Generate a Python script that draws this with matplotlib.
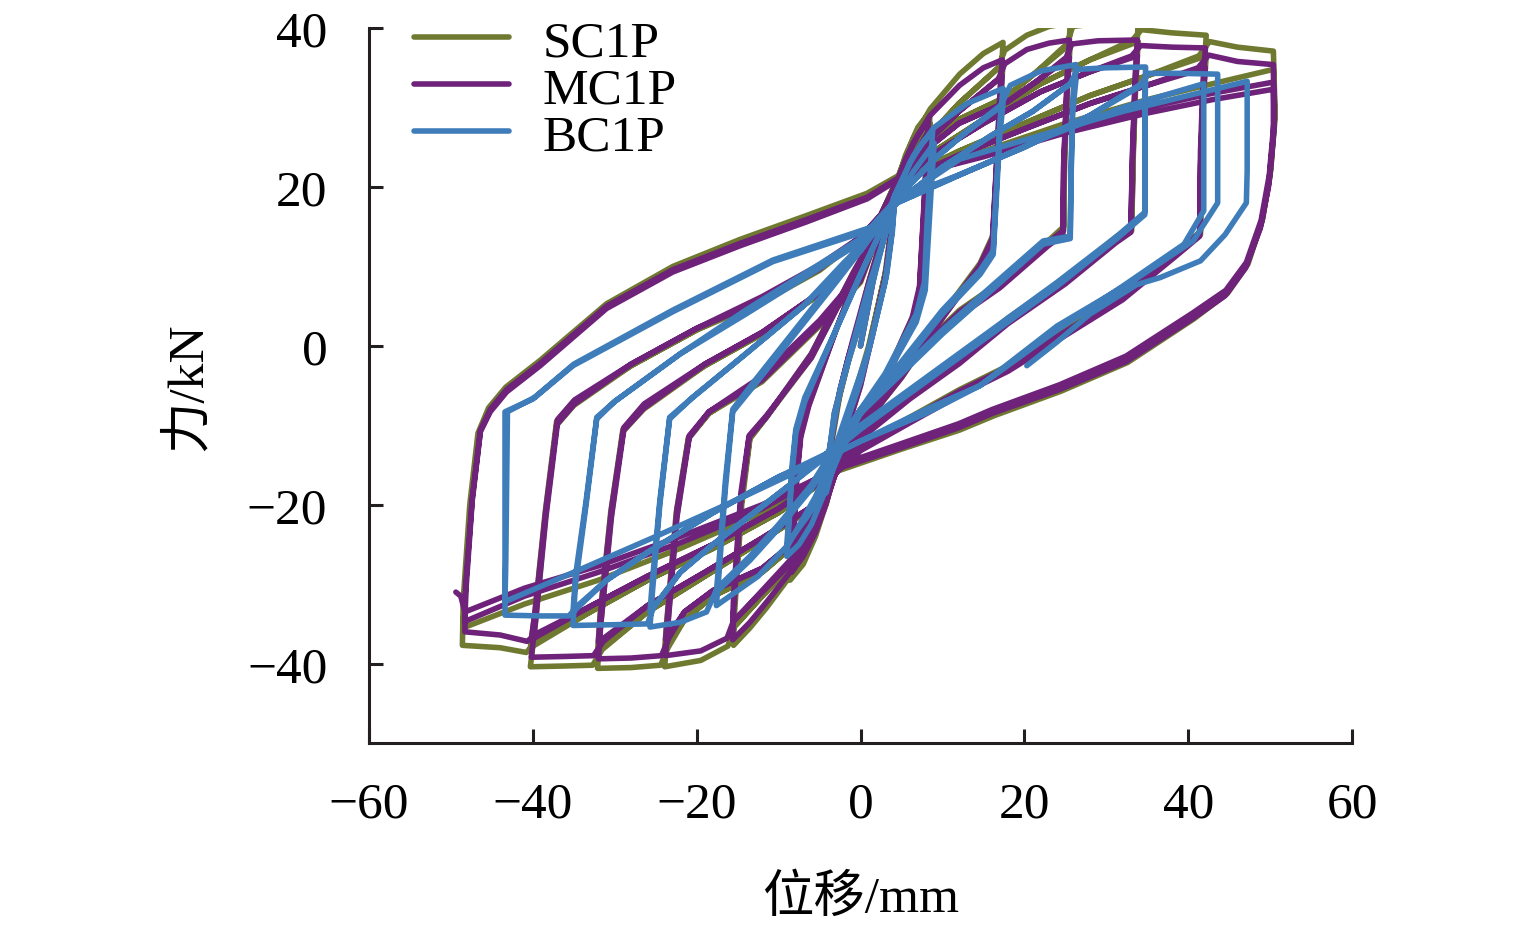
import numpy as np
from matplotlib import pyplot as plt

# 滞回曲线: 位移(mm), 力(kN), 每个试件按圈记录
sc1p_loops = [
    [(0, 0), (1.5, 8), (3, 15), (4.2, 21), (3.9, 16), (3.2, 10), (1.5, 2), (0, -5), (-1.5, -10), (-3, -15),
     (-4.2, -20), (-3.9, -15), (-3.2, -9), (-1.5, -2), (0, 3), (1.5, 9), (3, 15), (4.2, 20.5), (3.8, 15.5),
     (3, 9), (1, 0), (-1, -7), (-3, -13), (-4.2, -19.5), (-3.8, -14), (-2.5, -6), (-1, 0)],
    [(-1, 0), (1, 8), (3, 15), (4.4, 20.5), (5.5, 24), (7, 27.5), (8.5, 29.5), (8.2, 24), (7.8, 16), (7.4, 8),
     (6.5, 4), (3, -4), (0, -9), (-2.5, -14), (-4.4, -20.5), (-5.5, -24), (-7, -27.5), (-8.6, -29.5),
     (-8.3, -24), (-8, -18), (-7.5, -12), (-6.5, -8), (-3, 2), (0, 10), (2.5, 16)],
    [(2.5, 16), (4.4, 20), (6, 23.5), (8.5, 28), (8.2, 23), (7.8, 15), (7.4, 7.5), (6.5, 3.5), (3, -4.5),
     (0, -9.5), (-2.5, -14.5), (-4.4, -20), (-6, -23.5), (-8.6, -28), (-8.3, -23), (-8, -17), (-7.5, -11.5),
     (-6.5, -7.5), (-3, 2), (0, 9.5), (2.5, 15.5)],
    [(2.5, 15.5), (4.4, 20.8), (6.4, 26), (8.5, 29.8), (12.1, 34.2), (15, 36.8), (17.4, 38.2), (17.1, 33),
     (16.6, 22), (16.2, 14), (14.6, 10.4), (10, 4), (5, -3.5), (0, -10), (-3, -15.5), (-5, -21.5),
     (-8.6, -29), (-11.5, -33), (-13.5, -35.5), (-15.5, -37.7), (-15.4, -34), (-14.5, -20), (-13.5, -11.7),
     (-11.5, -9), (-6, -1), (-1, 9), (2.5, 15.5)],
    [(2.5, 15.5), (4.4, 20), (8, 26), (12, 30.5), (17.4, 35.5), (17.1, 31), (16.6, 21), (16.2, 13.5),
     (14.6, 10), (10, 3.5), (5, -4), (0, -10.5), (-3, -15.5), (-5, -21), (-8.6, -27.5), (-12, -31.5),
     (-15.5, -35.5), (-15.4, -32), (-14.5, -19), (-13.5, -11.5), (-11.5, -9), (-6, -1.5), (-1, 8.5), (2.5, 15)],
    [(2.5, 15), (4.4, 20.8), (8, 26), (12, 30.5), (16.8, 35), (17.6, 37.2), (20.3, 39.1), (23, 40.2),
     (25.6, 40.7), (25.3, 35), (24.9, 24), (24.8, 15), (22.9, 13.2), (17, 8), (12.1, 4.5), (5, -2.5),
     (0, -8), (-3, -15), (-5, -21.5), (-8.6, -28), (-12, -31.5), (-15.4, -35.3), (-16.2, -37.8),
     (-19.5, -39.6), (-23.9, -40.4), (-23.6, -36), (-22.5, -22), (-21, -11.7), (-18.5, -8.5), (-12, -4.5),
     (-5, 2.5), (0, 8), (2.5, 15)],
    [(2.5, 15), (4.4, 20.5), (8, 25), (12, 28.5), (17.9, 31.4), (21.5, 34.5), (25.6, 38), (25.3, 33),
     (24.9, 23), (24.8, 14.5), (22.9, 12.8), (17, 7.5), (12.1, 4), (5, -3), (0, -8.5), (-3, -15), (-5, -20),
     (-8, -25), (-12, -28.5), (-18, -31.5), (-21.5, -34.5), (-23.9, -38), (-23.6, -34), (-22.5, -21),
     (-21, -11.5), (-18.5, -8.5), (-12, -4), (-5, 3), (0, 9), (2.5, 15.5)],
    [(2.5, 15.5), (4.4, 20.8), (8, 25), (12, 28.5), (17.9, 31.4), (21.5, 34.5), (25.2, 38), (25.9, 40.2),
     (29, 40.6), (33.9, 40.8), (33.6, 35), (33.3, 25), (33.1, 15), (31.3, 13.8), (25, 8.5), (18, 3.5),
     (12.1, -1.5), (6, -6), (0, -11), (-3, -16), (-5, -20), (-8, -25), (-12, -28.5), (-18, -31.5),
     (-21.5, -34.5), (-23.5, -38), (-24.4, -40.2), (-28, -40.5), (-32.1, -40.6), (-31.8, -36), (-30.5, -22),
     (-29, -10.8), (-26.5, -8), (-19, -2.5), (-12, 1.5), (-5, 6.5), (0, 12), (2.5, 16)],
    [(2.5, 16), (4.4, 20.5), (9, 24.5), (15, 28.5), (22, 33), (28, 36), (33.9, 38.3), (33.6, 33), (33.3, 24),
     (33.1, 14.5), (31.3, 13.3), (25, 8), (18, 3), (12.1, -2), (6, -6.5), (0, -11.5), (-3, -16), (-6, -20.5),
     (-12, -24.5), (-19, -29), (-26, -33.5), (-32.1, -38.5), (-31.8, -34), (-30.5, -21), (-29, -10.5),
     (-26.5, -7.5), (-19, -2.5), (-12, 1.5), (-5, 6.5), (0, 12.5), (2.5, 16.5)],
    [(2.5, 16.5), (4.4, 20.8), (9, 24.5), (15, 28.5), (22, 33), (28, 36), (33.2, 38.5), (34.3, 39.8),
     (38, 39.4), (42.2, 39.1), (41.9, 34), (41.6, 25), (41.5, 14.4), (38.6, 11.9), (32, 6.5), (25, 2),
     (18, -2.5), (12.1, -5.5), (6, -9), (0, -12.5), (-3, -15.5), (-6, -20.5), (-12, -24.5), (-19, -29),
     (-26, -33.5), (-31.5, -38.2), (-32.7, -40.2), (-36, -40.3), (-40.3, -40.4), (-39.8, -36), (-38.5, -22),
     (-37.1, -10), (-35, -7.5), (-28, -2.5), (-20, 2), (-12, 5.5), (-5, 9.5), (0, 13.5), (2.5, 16.5)],
    [(2.5, 16.5), (4.4, 20.5), (12, 24.5), (20, 28), (28, 31.5), (35, 34), (42.2, 36.5), (41.9, 32),
     (41.6, 23), (41.5, 14), (38.6, 11.5), (32, 6), (25, 1.5), (18, -3), (12.1, -6), (6, -9.5), (0, -13),
     (-3, -16), (-10, -21), (-18, -25.5), (-26, -29.5), (-33, -33.5), (-40.3, -38), (-39.8, -34),
     (-38.5, -21), (-37.1, -9.5), (-35, -7), (-28, -2.5), (-20, 2), (-12, 6), (-5, 10), (0, 13.5), (2.5, 16.5)],
    [(2.5, 16.5), (4.4, 20.8), (12, 24.5), (20, 28), (28, 31.5), (35, 34), (41.3, 36.5), (42.6, 38.3),
     (46, 37.6), (50.4, 37.1), (50.6, 29.6), (50.1, 22.3), (49.1, 16), (47.3, 10.3), (44.8, 6.6),
     (40.7, 3.4), (32.6, -2.1), (24.5, -5.7), (16.3, -8.8), (12.1, -10.6), (5, -13), (-2.9, -15.8),
     (-10, -21), (-18, -25.5), (-26, -29.5), (-33, -33.5), (-39.6, -37.3), (-40.8, -38.6), (-44, -38),
     (-48.6, -37.7), (-48.5, -32), (-47.7, -20), (-46.7, -11), (-45.4, -7.8), (-43.3, -5.2), (-39.2, -1.9),
     (-31, 5.3), (-22.9, 10), (-14.7, 13.4), (-6.6, 16.4), (0.8, 19.2), (4.4, 21.3)],
    [(4.4, 21.3), (15, 24.5), (25, 28), (35, 31), (43, 33), (50.4, 34.8), (50.6, 28.5), (50, 21.5),
     (49, 15.7), (47.2, 10.3), (44.7, 6.7), (40.6, 3.6), (32.5, -2), (24.4, -5.5), (16.2, -8.5),
     (12.1, -10.3), (5, -12.8), (-2.9, -15.5), (-12, -21), (-22, -25.5), (-32, -29.5), (-41, -32.5),
     (-48.5, -35.5), (-48.3, -30.5), (-47.5, -19.5), (-46.5, -10.8), (-45.2, -8), (-43.2, -5.5),
     (-39.1, -2.2), (-31, 5), (-22.9, 9.6), (-14.7, 12.9), (-6.6, 15.9), (0.8, 18.7), (4.4, 21)],
]

mc1p_loops = [
    [(0, 0), (1.5, 8), (3, 15), (4.2, 20.5), (3.9, 15.5), (3.2, 9.5), (1.5, 1.5), (0, -5), (-1.5, -10),
     (-3, -15), (-4.2, -19.5), (-3.9, -14.5), (-3.2, -8.5), (-1.5, -1.5), (0, 3.5), (1.5, 9), (3, 15),
     (4.2, 20), (3.8, 15), (3, 8.5), (1, -0.5), (-1, -7), (-3, -13), (-4.2, -19), (-3.8, -13.5),
     (-2.5, -5.5), (-1, 0.5)],
    [(-1, 0.5), (1, 8), (3, 15), (4.4, 20.5), (5.5, 23.5), (7, 26.5), (8.3, 28.5), (8, 23), (7.6, 15),
     (7.2, 7.5), (6.3, 3.5), (3, -4), (0, -9), (-2.5, -14), (-4.4, -20.5), (-5.5, -23.5), (-7, -26.5),
     (-8.4, -28.5), (-8.1, -23), (-7.8, -17), (-7.3, -11.5), (-6.3, -7.5), (-3, 2), (0, 10), (2.5, 16)],
    [(2.5, 16), (4.4, 20), (6, 23), (8.3, 27), (8, 22), (7.6, 14.5), (7.2, 7), (6.3, 3), (3, -4.5),
     (0, -9.5), (-2.5, -14.5), (-4.4, -20), (-6, -23), (-8.4, -27), (-8.1, -22), (-7.8, -16.5), (-7.3, -11),
     (-6.3, -7), (-3, 2), (0, 9.5), (2.5, 15.5)],
    [(2.5, 15.5), (4.4, 20.5), (6.4, 25.5), (8.5, 29), (12.1, 32.8), (15, 35), (17.3, 36), (17, 31.5),
     (16.5, 21), (16.1, 13.5), (14.5, 10), (10, 3.8), (5, -3.5), (0, -10), (-3, -15.3), (-5, -21),
     (-8.6, -28.5), (-11.5, -32.3), (-13.5, -34.8), (-15.6, -37), (-15.5, -33.5), (-14.6, -19.5),
     (-13.6, -11.5), (-11.5, -9), (-6, -1), (-1, 9), (2.5, 15.5)],
    [(2.5, 15.5), (4.4, 20), (8, 25.5), (12, 29.5), (17.3, 34), (17, 30), (16.5, 20.5), (16.1, 13),
     (14.5, 9.8), (10, 3.5), (5, -4), (0, -10.5), (-3, -15.5), (-5, -20.5), (-8.6, -27), (-12, -30.8),
     (-15.6, -34.8), (-15.5, -31.5), (-14.6, -18.5), (-13.6, -11.3), (-11.5, -8.8), (-6, -1.5), (-1, 8.5),
     (2.5, 15)],
    [(2.5, 15), (4.4, 20.5), (8, 25.5), (12, 29.5), (16.8, 33.5), (17.6, 35.5), (20.3, 37.3), (23, 38.1),
     (25.5, 38.5), (25.2, 33.5), (24.8, 23), (24.7, 14.5), (22.8, 12.9), (17, 7.8), (12.1, 4.3), (5, -2.7),
     (0, -8.2), (-3, -15), (-5, -21), (-8.6, -27.5), (-12, -31), (-15.5, -34.6), (-16.3, -36.8),
     (-19.5, -38.4), (-23.8, -39), (-23.5, -35), (-22.4, -21.5), (-20.9, -11.5), (-18.5, -8.3), (-12, -4.3),
     (-5, 2.7), (0, 8.2), (2.5, 15)],
    [(2.5, 15), (4.4, 20.3), (8, 24.7), (12, 28), (17.9, 30.7), (21.5, 33.3), (25.5, 36.3), (25.2, 32),
     (24.8, 22.5), (24.7, 14), (22.8, 12.5), (17, 7.3), (12.1, 3.8), (5, -3.2), (0, -8.7), (-3, -15),
     (-5, -19.8), (-8, -24.6), (-12, -28), (-18, -30.8), (-21.5, -33.5), (-23.8, -37), (-23.5, -33.3),
     (-22.4, -20.5), (-20.9, -11.3), (-18.5, -8.3), (-12, -3.8), (-5, 3.2), (0, 9.2), (2.5, 15.5)],
    [(2.5, 15.5), (4.4, 20.5), (8, 24.7), (12, 28), (17.9, 30.7), (21.5, 33.3), (25.1, 36.3), (25.8, 38),
     (29, 38.4), (33.8, 38.5), (33.5, 33.5), (33.2, 24.5), (33, 14.8), (31.2, 13.5), (25, 8.3), (18, 3.3),
     (12.1, -1.7), (6, -6.2), (0, -11.2), (-3, -16), (-5, -19.8), (-8, -24.6), (-12, -28), (-18, -30.8),
     (-21.5, -33.5), (-23.4, -36.8), (-24.3, -39), (-28, -39.3), (-32, -39.4), (-31.7, -35), (-30.4, -21.5),
     (-28.9, -10.6), (-26.4, -7.8), (-19, -2.3), (-12, 1.7), (-5, 6.7), (0, 12.2), (2.5, 16)],
    [(2.5, 16), (4.4, 20.3), (9, 24.2), (15, 28), (22, 32), (28, 34.5), (33.8, 36.5), (33.5, 32),
     (33.2, 23.5), (33, 14.3), (31.2, 13), (25, 7.8), (18, 2.8), (12.1, -2.2), (6, -6.7), (0, -11.7),
     (-3, -16), (-6, -20.3), (-12, -24.2), (-19, -28.5), (-26, -32.7), (-32, -37.3), (-31.7, -33.2),
     (-30.4, -20.5), (-28.9, -10.3), (-26.4, -7.3), (-19, -2.3), (-12, 1.7), (-5, 6.7), (0, 12.7), (2.5, 16.5)],
    [(2.5, 16.5), (4.4, 20.5), (9, 24.2), (15, 28), (22, 32), (28, 34.5), (33.1, 36.5), (34.2, 37.8),
     (38, 37.6), (42.1, 37.5), (41.8, 33), (41.5, 24.5), (41.4, 14.2), (38.5, 11.7), (32, 6.3), (25, 1.8),
     (18, -2.7), (12.1, -5.7), (6, -9.2), (0, -12.7), (-3, -15.5), (-6, -20.3), (-12, -24.2), (-19, -28.5),
     (-26, -32.7), (-31.4, -37.2), (-32.6, -39), (-36, -39.1), (-40.2, -39.2), (-39.7, -35), (-38.4, -21.5),
     (-37, -9.8), (-34.9, -7.3), (-28, -2.3), (-20, 2.2), (-12, 5.7), (-5, 9.7), (0, 13.7), (2.5, 16.5)],
    [(2.5, 16.5), (4.4, 20.3), (12, 24), (20, 27.3), (28, 30.5), (35, 32.8), (42.1, 35), (41.8, 31),
     (41.5, 22.5), (41.4, 13.8), (38.5, 11.3), (32, 5.8), (25, 1.3), (18, -3.2), (12.1, -6.2), (6, -9.7),
     (0, -13.2), (-3, -16), (-10, -20.5), (-18, -25), (-26, -29), (-33, -32.8), (-40.2, -37), (-39.7, -33.2),
     (-38.4, -20.5), (-37, -9.3), (-34.9, -6.8), (-28, -2.3), (-20, 2.2), (-12, 6.2), (-5, 10.2), (0, 13.7),
     (2.5, 16.5)],
    [(2.5, 16.5), (4.4, 20.5), (12, 24), (20, 27.3), (28, 30.5), (35, 32.8), (41.2, 35), (42.5, 36.6),
     (46, 35.8), (50.4, 35.4), (50.5, 28.5), (49.9, 21.5), (48.9, 15.8), (47.1, 10.5), (44.6, 7), (40.5, 4.1),
     (32.4, -1.3), (24.3, -4.9), (16.1, -8), (12, -9.8), (5, -12.3), (-2.9, -15.1), (-10, -20.5), (-18, -25),
     (-26, -29), (-33, -32.8), (-39.5, -36.2), (-40.7, -37.2), (-44, -36.4), (-48.3, -36), (-48.2, -31.2),
     (-47.4, -19.5), (-46.4, -10.8), (-45.2, -8.3), (-43.2, -5.8), (-39.1, -2.5), (-31, 4.7), (-22.9, 9.3),
     (-14.7, 12.6), (-6.6, 15.6), (0.8, 18.5), (4.4, 20.8)],
    [(4.4, 20.8), (15, 24), (25, 27.3), (35, 30), (43, 31.8), (50.4, 33.2), (50.5, 27.5), (49.9, 20.8),
     (48.9, 15.3), (47.1, 10.1), (44.6, 6.6), (40.5, 3.7), (32.4, -1.8), (24.3, -5.3), (16.1, -8.3),
     (12, -10.1), (5, -12.6), (-2.9, -15.3), (-12, -20.5), (-22, -24.8), (-32, -28.5), (-41, -31.5),
     (-48.3, -34.7), (-48.2, -30), (-47.4, -19.2), (-46.4, -10.6), (-45.2, -8), (-43.2, -5.5), (-39.1, -2.2),
     (-31, 5), (-22.9, 9.6), (-14.7, 12.9), (-6.6, 15.9), (0.8, 18.7), (4.4, 21)],
    [(4.4, 21), (15, 23.8), (25, 26.8), (35, 29.3), (43, 31), (50.4, 32.3), (50.4, 26.5), (49.8, 20),
     (48.8, 14.8), (47, 9.8), (44.5, 6.3), (40.5, 3.4), (32.4, -2), (24.3, -5.5), (16.1, -8.5), (12, -10.3),
     (5, -12.8), (-2.9, -15.5), (-12, -20), (-22, -24), (-32, -27.7), (-41, -30.5), (-48.3, -33.5),
     (-48.8, -31.5), (-49.4, -31)],
]

bc1p_loops = [
    [(0, 0), (1.5, 8), (3, 14), (4.2, 19), (3.9, 14.5), (3.2, 9), (1.5, 1.5), (0, -4.5), (-1.5, -9),
     (-3, -14), (-4.2, -18.5), (-3.9, -14), (-3.2, -8.5), (-1.5, -2), (0, 3), (1.5, 8.5), (3, 14),
     (4.2, 18.5), (3.8, 14), (3, 8), (1, -0.5), (-1, -6.5), (-3, -12.5), (-4.2, -18), (-3.8, -13),
     (-2.5, -5.5), (-1, 0)],
    [(-1, 0), (1, 7.5), (3, 14), (4.4, 19), (6, 23), (7.5, 25.5), (8.8, 27), (8.5, 22), (8.1, 15), (7.8, 8),
     (6.8, 4), (3, -3.5), (0, -8), (-2.5, -13), (-4.4, -18.5), (-6, -22.5), (-7.5, -25), (-9, -26.5),
     (-8.7, -22), (-8.4, -16.5), (-7.9, -11), (-6.8, -7), (-3, 2), (0, 9), (2.5, 14.5)],
    [(2.5, 14.5), (4.4, 18.5), (6.5, 22), (9, 25.5), (8.7, 21), (8.3, 14), (7.9, 7), (6.8, 3), (3, -4),
     (0, -8.5), (-2.5, -13.5), (-4.4, -18), (-6.5, -21.5), (-9, -25), (-8.7, -21), (-8.4, -15.5),
     (-7.9, -10.5), (-6.8, -6.5), (-3, 2), (0, 9), (2.5, 14.5)],
    [(2.5, 14.5), (4.4, 19.5), (6.5, 24), (9, 27.5), (13, 30.5), (17.4, 32.4), (17, 28), (16.5, 18),
     (16.2, 12), (14.6, 9.5), (10, 4.5), (5, -2), (0, -8), (-3, -13), (-5.5, -19), (-8.8, -25),
     (-12.5, -29), (-17.6, -32.7), (-17.3, -29), (-16.5, -18), (-15.6, -8.3), (-13, -5), (-8, 1.5),
     (-3, 8), (0, 12)],
    [(0, 12), (4.4, 18.5), (9, 23.5), (13, 27), (17.4, 30.5), (17, 26.5), (16.5, 17), (16.2, 11.5),
     (14.6, 9), (10, 4), (5, -2.5), (0, -8.5), (-3, -13), (-6, -18), (-10, -23), (-13.5, -27), (-17.6, -31),
     (-17.3, -27.5), (-16.5, -17), (-15.6, -8), (-13, -4.5), (-8, 2), (-3, 8.5), (0, 12)],
    [(0, 12), (4.4, 18.5), (9, 23.5), (13, 27), (17, 30), (18.3, 32.8), (22, 34.6), (26.3, 35.4),
     (25.9, 31), (25.7, 22), (25.6, 13.8), (22.3, 13.2), (16, 7.5), (10, 2), (4, -4), (0, -8), (-3, -12.5),
     (-6, -17.5), (-10, -22.5), (-13.5, -26.5), (-17.5, -30.5), (-18.8, -33.5), (-22, -34.8), (-25.7, -35.4),
     (-25.4, -31), (-24.5, -20), (-23.3, -9.2), (-20.5, -6.5), (-14, -1), (-7, 5), (-2, 10), (0, 12)],
    [(0, 12), (4.4, 18), (10, 22.5), (16, 26.5), (21, 29.5), (26.3, 33.5), (25.9, 29.5), (25.7, 21),
     (25.6, 13.5), (22.3, 12.8), (16, 7), (10, 1.5), (4, -4.5), (0, -8.5), (-3, -12.5), (-8, -17), (-13, -21),
     (-18, -25), (-22, -28.5), (-25.7, -33.5), (-25.4, -29.5), (-24.5, -19.5), (-23.3, -9), (-20.5, -6.5),
     (-14, -1), (-7, 5), (-2, 10.5), (0, 12.5)],
    [(0, 12.5), (4.4, 18), (10, 22.5), (16, 26.5), (21, 29.5), (25.6, 33), (26.5, 34.8), (30, 35),
     (34.8, 35.1), (34.7, 30), (34.7, 22), (34.7, 16.8), (31.3, 13.8), (24, 8), (16, 2), (8, -4), (0, -10),
     (-3, -13), (-8, -17), (-13, -21), (-18, -25), (-22, -28.5), (-25.3, -33), (-26, -35), (-30, -35.1),
     (-35.1, -35.2), (-34.8, -30), (-33.5, -20), (-32.2, -9.2), (-30, -7), (-22, -1), (-14, 4), (-7, 8.5),
     (0, 13)],
    [(0, 13), (4.4, 18), (12, 21.5), (20, 25), (28, 29), (34.8, 33.3), (34.7, 29), (34.7, 21), (34.7, 16.5),
     (31.3, 13.5), (24, 7.5), (16, 1.5), (8, -4.5), (0, -10.5), (-3, -13), (-10, -16.5), (-18, -21),
     (-26, -26), (-31, -29.5), (-35.1, -33.5), (-34.8, -29), (-33.5, -19.5), (-32.2, -9), (-30, -7),
     (-22, -1), (-14, 4.5), (-7, 9), (0, 13.5)],
    [(0, 13.5), (4.4, 18.5), (12, 21.5), (20, 25), (28, 29), (34, 32.6), (35.2, 34.3), (39, 34.3),
     (43.6, 34.2), (43.6, 29), (43.6, 22), (43.6, 18), (40.6, 13.2), (33, 8), (24, 2.5), (14.6, -5),
     (8, -8), (0, -12), (-3, -13.5), (-10, -16.5), (-18, -21), (-26, -26), (-31, -29.5), (-34.3, -32.5),
     (-35.6, -34), (-39, -34), (-43.4, -33.9), (-43.4, -28), (-43.4, -18), (-43.4, -8.3), (-40, -6.7),
     (-35.1, -2.5), (-22.9, 4.3), (-10.7, 10.6), (1.5, 14.7), (4.5, 18)],
    [(4.5, 18), (12.1, 21.5), (22, 26), (32, 30), (41.9, 33), (41.9, 28), (41.9, 21), (41.9, 17),
     (39.5, 12.8), (32, 7.5), (24, 2), (14.6, -5), (8, -8.5), (0, -12), (-3, -13.5), (-14.7, -19.2),
     (-25, -24), (-35, -28.5), (-43.4, -32.2), (-43.3, -27), (-43.2, -17), (-43.1, -8.3), (-39.8, -6.5),
     (-35, -2.3), (-22.9, 4.5), (-10.7, 10.8), (1.5, 15), (4.5, 18.2)],
    [(4.5, 18.2), (12.1, 23.5), (22, 26.5), (32, 29.5), (40, 31.5), (47.2, 33.3), (47.2, 28), (47.2, 22),
     (47.1, 18), (44.5, 14), (41.5, 10.7), (36.6, 8.6), (33.7, 7.7), (28, 4), (24, 0.5), (20.3, -2.5)],
]

series = [
    ("SC1P", sc1p_loops, "#6f7a30"),
    ("MC1P", mc1p_loops, "#6e227a"),
    ("BC1P", bc1p_loops, "#3e7dba"),
]

plt.rcParams['font.family'] = ['Liberation Serif', 'Noto Sans CJK SC']
plt.rcParams['font.size'] = 37

fig = plt.figure(figsize=(15.35, 9.29), dpi=100)
ax = fig.add_axes([0.2404, 0.1991, 0.6404, 0.7696])

for name, loops, color in series:
    pts = np.array([p for loop in loops for p in loop])
    ax.plot(pts[:, 0], pts[:, 1], color=color, lw=4.0, label=name,
            solid_joinstyle='round', solid_capstyle='round')

ax.set_xlim(-60, 60)
ax.set_ylim(-50, 40)
ax.set_xticks([-60, -40, -20, 0, 20, 40, 60])
ax.set_yticks([-40, -20, 0, 20, 40])

for side in ['top', 'right']:
    ax.spines[side].set_visible(False)
for side in ['left', 'bottom']:
    ax.spines[side].set_linewidth(2.2)
    ax.spines[side].set_color('#231f20')

ax.tick_params(direction='in', length=10, width=2.2, color='#231f20', labelsize=37)
ax.tick_params(axis='x', pad=27)
ax.tick_params(axis='y', pad=30)

ax.set_xlabel('位移/mm', fontsize=37)
ax.set_ylabel('力/kN', fontsize=37)
ax.xaxis.set_label_coords(0.5, -0.183)
ax.yaxis.set_label_coords(-0.16, 0.5)

ax.legend(loc='upper left', bbox_to_anchor=(0.046, 1.012), frameon=False,
          handlelength=1.85, handletextpad=0.65, labelspacing=0.0,
          borderpad=0, borderaxespad=0, fontsize=37)

fig.savefig('out.png', dpi=100)
